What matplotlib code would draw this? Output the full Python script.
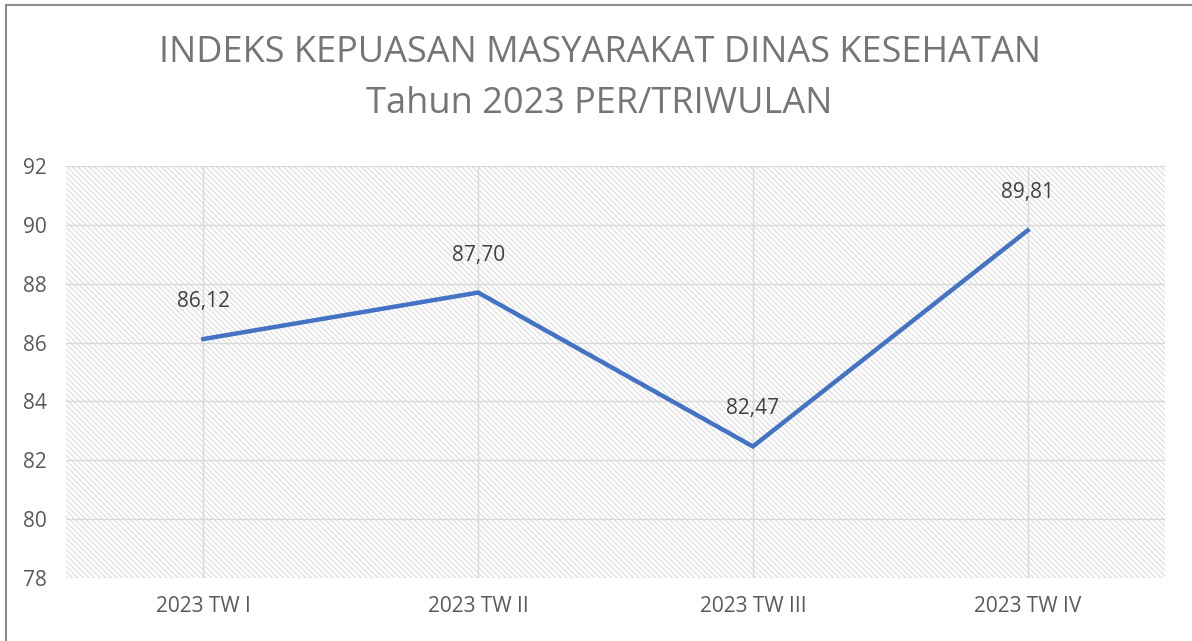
import matplotlib.pyplot as plt
from matplotlib.lines import Line2D

plt.rcParams['font.family'] = ['Open Sans', 'DejaVu Sans']
plt.rcParams['hatch.color'] = '#dcdcdc'
plt.rcParams['hatch.linewidth'] = 0.8

triwulan = ["2023 TW I", "2023 TW II", "2023 TW III", "2023 TW IV"]
nilai = [86.12, 87.70, 82.47, 89.81]
label_nilai = ["86,12", "87,70", "82,47", "89,81"]
yticks = [78, 80, 82, 84, 86, 88, 90, 92]

fig = plt.figure(figsize=(11.92, 6.41), dpi=100)
ax = fig.add_axes([66 / 1192, 1 - 578 / 641, 1099 / 1192, 412 / 641])

# latar bergaris miring
ax.patch.set_facecolor('white')
ax.patch.set_hatch('\\\\\\\\\\\\')
ax.patch.set_edgecolor('#dcdcdc')

x = list(range(len(triwulan)))
ax.plot(x, nilai, color='#4472C4', linewidth=3.2, solid_joinstyle='miter', zorder=3)

for i, (v, lbl) in enumerate(zip(nilai, label_nilai)):
    ax.annotate(lbl, (i, v), xytext=(0, 27), textcoords='offset points',
                ha='center', va='center', fontsize=15, color='#404040')

ax.set_xlim(-0.5, 3.5)
ax.set_ylim(78, 92)
ax.set_xticks(x)
ax.set_xticklabels(triwulan)
ax.set_yticks(yticks)
ax.tick_params(axis='both', length=0, labelsize=15, labelcolor='#595959')
ax.tick_params(axis='x', pad=13)
ax.tick_params(axis='y', pad=14)
ax.grid(True, color='#d9d9d9', linewidth=1.0)
ax.set_axisbelow(True)
for s in ax.spines.values():
    s.set_visible(False)

fig.text(0.503, 1 - 53 / 641, "INDEKS KEPUASAN MASYARAKAT DINAS KESEHATAN",
         ha='center', va='center', fontsize=26, color='#757575')
fig.text(0.503, 1 - 104 / 641, "Tahun 2023 PER/TRIWULAN",
         ha='center', va='center', fontsize=26, color='#757575')

# bingkai
fig.add_artist(Line2D([0.005, 1.0], [1 - 5 / 641, 1 - 5 / 641], color='#8c8c8c', linewidth=1.5))
fig.add_artist(Line2D([0.005, 0.005], [0.0, 1 - 5 / 641], color='#8c8c8c', linewidth=1.5))

fig.savefig('out.png', dpi=100)
